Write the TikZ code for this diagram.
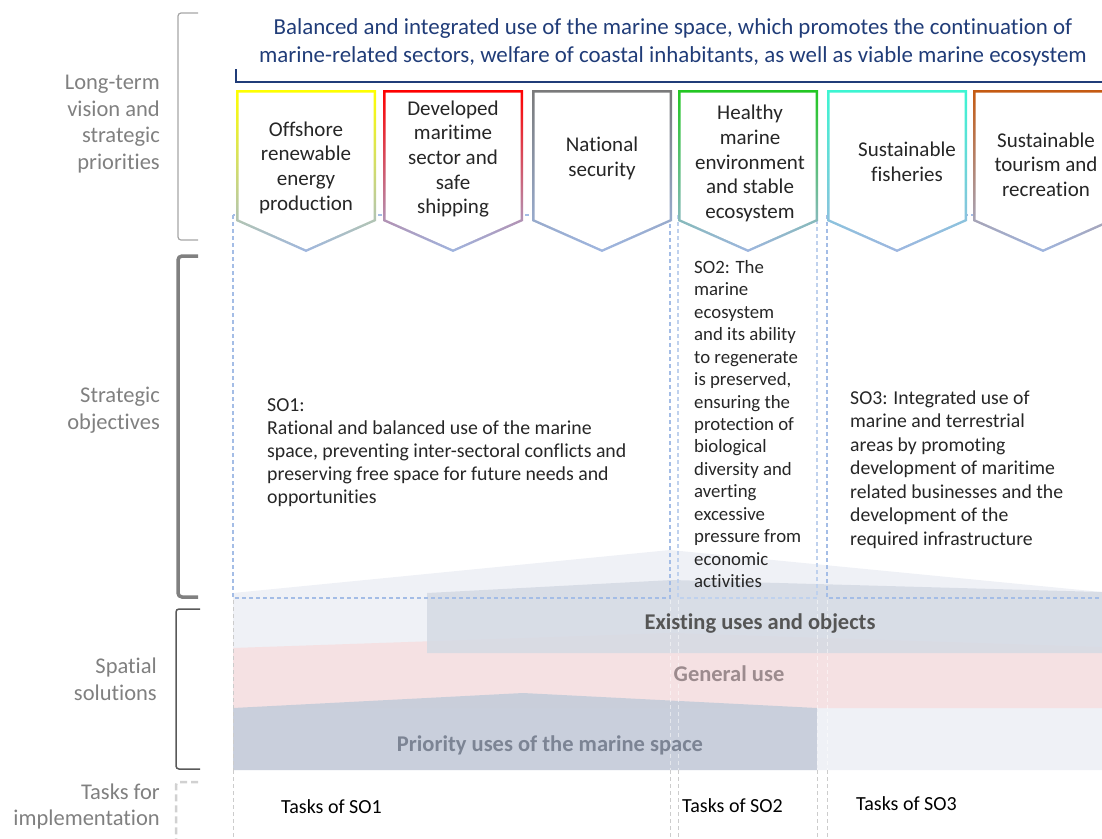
\documentclass[tikz,border=0pt]{standalone}
\usepackage{fontspec}
\setmainfont{Carlito}[Ligatures=NoCommon]
\usetikzlibrary{positioning}

\definecolor{sidegray}{HTML}{808080}
\definecolor{navyblue}{HTML}{203C78}
\definecolor{dashblue}{HTML}{A4BDE6}
\definecolor{tipblue}{HTML}{9FB6E0}
\definecolor{lightband}{HTML}{EFF1F6}
\definecolor{existband}{HTML}{D5DAE4}
\definecolor{generalband}{HTML}{F5E1E3}
\definecolor{priorityband}{HTML}{C6CDDA}
\definecolor{existtext}{HTML}{555555}
\definecolor{generaltext}{HTML}{9C8B8E}
\definecolor{prioritytext}{HTML}{7C8494}
\definecolor{secgray}{HTML}{7A7A7A}
\definecolor{ecogreen}{HTML}{22C722}
\definecolor{fishcyan}{HTML}{3CF5D2}
\definecolor{tourorange}{HTML}{C55A11}
\definecolor{textdark}{HTML}{262626}

\tikzset{
  sidelabel/.style={anchor=east, align=right, text=sidegray, inner sep=0pt,
    font=\fontsize{22.5}{26.7}\selectfont},
  priolabel/.style={align=center, text=textdark, inner sep=0pt,
    font=\fontsize{21}{24.7}\selectfont},
  objtext/.style={anchor=west, align=left, text=textdark, inner sep=0pt,
    font=\fontsize{19.8}{23}\selectfont},
  tasktext/.style={anchor=west, text=black, inner sep=0pt,
    font=\fontsize{20}{24}\selectfont},
  bandlabel/.style={inner sep=0pt, font=\bfseries\fontsize{22.5}{26}\selectfont},
  colbox/.style={draw=dashblue, line width=1.2pt, dash pattern=on 4pt off 3pt},
  taskline/.style={draw=black!20, line width=1pt, dash pattern=on 4pt off 3pt}
}

\begin{document}
\begin{tikzpicture}[x=1pt,y=-1pt]
			\useasboundingbox (0,0) rectangle (1102,838);
			\clip (0,0) rectangle (1102,838);

			% Spatial solutions
			\fill[lightband] (233,593) -- (670,550) -- (1102,592) -- (1102,770) -- (233,770) -- cycle;
			\fill[generalband] (233,648) -- (670,633) -- (1102,647) -- (1102,708) -- (233,708) -- cycle;
			\fill[existband, opacity=0.85] (427,593) -- (672,580) -- (1102,592) -- (1102,653) -- (427,653) -- cycle;
			\fill[priorityband, opacity=0.92] (233,708) -- (523,693) -- (817,708) -- (817,770) -- (233,770) -- cycle;
			\foreach \tx in {670,678,817,827}
				\draw[taskline, draw=white, opacity=0.5] (\tx,600) -- (\tx,770);
			\node[bandlabel, text=existtext] (existing) at (760,624) {Existing uses and objects};
			\node[bandlabel, text=generaltext] (general) at (729,674) {General use};
			\node[bandlabel, text=prioritytext] (priority) at (550,745) {Priority uses of the marine space};

			% Columns of the objectives and tasks
			\draw[colbox] (233,215) rectangle (670,598);
			\draw[colbox, draw=dashblue!70] (678,215) rectangle (817,598);
			\draw[colbox] (827,215) rectangle (1106,598);
			\foreach \tx in {233,670,678,817,827}
				\draw[taskline] (\tx,770) -- (\tx,840);
			\draw[taskline] (233,600) -- (233,770);

			% Vision
			\node[font=\fontsize{22.9}{28}\selectfont, text=navyblue, align=center, inner sep=0pt] (vision) at (673,42)
				{Balanced and integrated use of the marine space, which promotes the continuation of\\marine-related sectors, welfare of coastal inhabitants, as well as viable marine ecosystem};
			\draw[navyblue, line width=2.5pt] (236,69) -- (236,82) -- (1104,82);

			% Strategic priorities
			\foreach \px/\pc in {236/yellow, 383/red, 532/secgray, 678/ecogreen, 827/fishcyan, 973/tourorange}{
				\shade[top color=\pc, bottom color=tipblue] (\px,90) -- (\px+140,90) -- (\px+140,221) -- (\px+70,252) -- (\px,221) -- cycle;
				\fill[white] (\px+2.5,92.5) -- (\px+137.5,92.5) -- (\px+137.5,219.4) -- (\px+70,249.3) -- (\px+2.5,219.4) -- cycle;
			}
			\node[priolabel] (energy) at (306,167.5) {Offshore\\renewable\\energy\\production};
			\node[priolabel] (shipping) at (453,159) {Developed\\maritime\\sector and\\safe\\shipping};
			\node[priolabel] (security) at (602,158.5) {National\\security};
			\node[priolabel] (ecosystem) at (750,163.5) {Healthy\\marine\\environment\\and stable\\ecosystem};
			\node[priolabel] (fisheries) at (907,161.5) {Sustainable\\fisheries};
			\node[priolabel] (tourism) at (1046,164.5) {Sustainable\\tourism and\\recreation};

			% Strategic objectives
			\node[objtext] (so1) at (267,453) {SO1:\\Rational and balanced use of the marine\\space, preventing inter-sectoral conflicts and\\preserving free space for future needs and\\opportunities};
			\node[objtext, font=\fontsize{18.8}{22.43}\selectfont] (so2) at (694,424) {SO2: The\\marine\\ecosystem\\and its ability\\to regenerate\\is preserved,\\ensuring the\\protection of\\biological\\diversity and\\averting\\excessive\\pressure from\\economic\\activities};
			\node[objtext, font=\fontsize{19.7}{23.5}\selectfont] (so3) at (850,469.5) {SO3: Integrated use of\\marine and terrestrial\\areas by promoting\\development of maritime\\related businesses and the\\development of the\\required infrastructure};

			% Tasks
			\node[tasktext] (tasks1) at (281,807) {Tasks of SO1};
			\node[tasktext] (tasks2) at (682,806) {Tasks of SO2};
			\node[tasktext] (tasks3) at (856,804) {Tasks of SO3};

			% Side labels and brackets
			\node[sidelabel] (visionlbl) at (160,124) {Long-term\\vision and\\strategic\\priorities};
			\node[sidelabel] (objectiveslbl) at (160,410.5) {Strategic\\objectives};
			\node[sidelabel] (spatiallbl) at (157,679.5) {Spatial\\solutions};
			\node[sidelabel] (taskslbl) at (160,806.5) {Tasks for\\implementation};
			\draw[black!35, line width=1.2pt, rounded corners=3pt] (198,13) -- (178,13) -- (178,240) -- (198,240);
			\draw[sidegray, line width=3.5pt, rounded corners=4pt] (198,256) -- (178,256) -- (178,597) -- (198,597);
			\draw[black!65, line width=1.5pt, rounded corners=3pt] (200,609) -- (176,609) -- (176,769) -- (200,769);
			\draw[black!18, line width=2.5pt, dash pattern=on 7pt off 4pt, rounded corners=3pt] (198,782) -- (176,782) -- (176,842);
		\end{tikzpicture}
\end{document}
